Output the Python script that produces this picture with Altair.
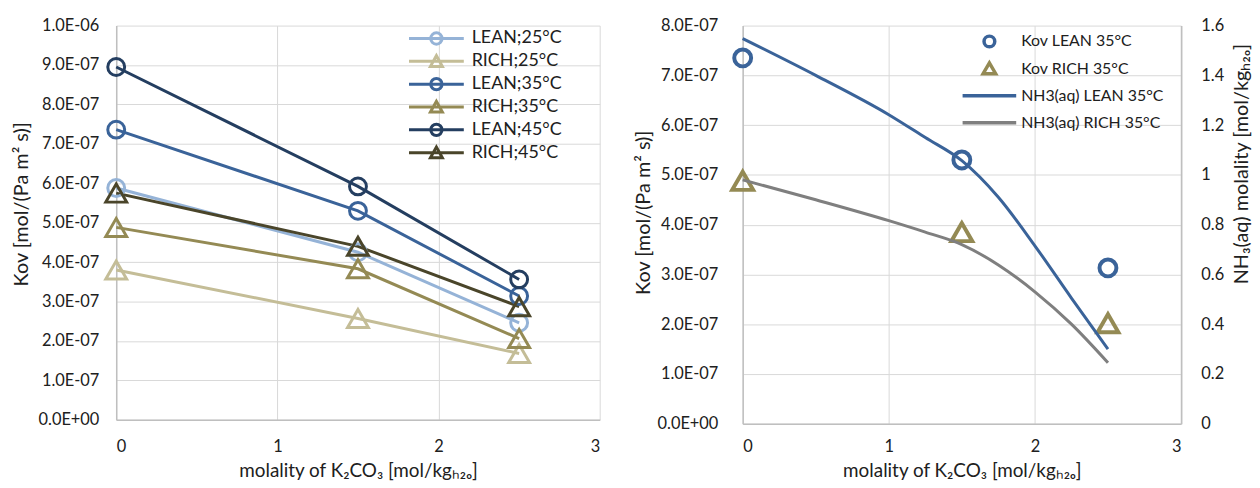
import altair as alt
import pandas as pd

FONT = "Lato"
TXT = "#202020"
GRID = "#D9D9D9"
AXIS = "#BFBFBF"
LBL = 16.5
XTTL = 19
YTTL = 20

# ---------------- left panel data ----------------
k2co3_pts = [0.0, 1.5, 2.5]
left_series = ["LEAN;25°C", "RICH;25°C", "LEAN;35°C", "RICH;35°C", "LEAN;45°C", "RICH;45°C"]
left_colors = ["#95B3D7", "#C4BD97", "#3A6399", "#948A54", "#243E60", "#4A452A"]
kov_lean25 = [5.88e-7, 4.25e-7, 2.46e-7]
kov_rich25 = [3.80e-7, 2.57e-7, 1.68e-7]
kov_lean35 = [7.36e-7, 5.30e-7, 3.14e-7]
kov_rich35 = [4.88e-7, 3.83e-7, 2.06e-7]
kov_lean45 = [8.95e-7, 5.92e-7, 3.56e-7]
kov_rich45 = [5.75e-7, 4.40e-7, 2.87e-7]
left_y_ticks = [0.0, 1e-7, 2e-7, 3e-7, 4e-7, 5e-7, 6e-7, 7e-7, 8e-7, 9e-7, 1e-6]
x_ticks = [0, 1, 2, 3]

# ---------------- right panel data ----------------
right_series = ["Kov LEAN 35°C", "Kov RICH 35°C", "NH3(aq) LEAN 35°C", "NH3(aq) RICH 35°C"]
right_colors = ["#3A6399", "#948A54", "#3A6399", "#7F7F7F"]
kov_lean35_r = [7.35e-7, 5.30e-7, 3.13e-7]
kov_rich35_r = [4.88e-7, 3.85e-7, 2.02e-7]
x_curve = [0.0, 0.5, 1.0, 1.25, 1.5, 1.75, 2.0, 2.25, 2.5]
nh3_lean35 = [1.548, 1.40, 1.242, 1.15, 1.057, 0.91, 0.715, 0.505, 0.30]
nh3_rich35 = [0.98, 0.90, 0.816, 0.77, 0.72, 0.638, 0.53, 0.40, 0.245]
right_y_ticks = [0.0, 1e-7, 2e-7, 3e-7, 4e-7, 5e-7, 6e-7, 7e-7, 8e-7]
right_y2_ticks = [0.0, 0.2, 0.4, 0.6, 0.8, 1.0, 1.2, 1.4, 1.6]

# ---------------- tables ----------------
rows = []
for s, vals in zip(left_series, [kov_lean25, kov_rich25, kov_lean35, kov_rich35, kov_lean45, kov_rich45]):
    for x, v in zip(k2co3_pts, vals):
        rows.append({"series": s, "x": x, "kov": v, "mk": "LEAN" if s.startswith("LEAN") else "RICH"})
df_left = pd.DataFrame(rows)

rows = []
for s, vals in zip(right_series[:2], [kov_lean35_r, kov_rich35_r]):
    for x, v in zip(k2co3_pts, vals):
        rows.append({"series": s, "x": x, "kov": v, "mk": "LEAN" if "LEAN" in s else "RICH"})
df_right_pts = pd.DataFrame(rows)

rows = []
for s, vals in zip(right_series[2:], [nh3_lean35, nh3_rich35]):
    for x, v in zip(x_curve, vals):
        rows.append({"series": s, "x": x, "nh3": v})
df_right_lines = pd.DataFrame(rows)

sci_expr = ("datum.value < 1e-9 ? '0.0E+00' : (datum.value > 9.5e-7 ? '1.0E-06' : "
            "format(datum.value * 1e7, '.1f') + 'E-07')")

x_title = "molality of K₂CO₃ [mol/kgₕ₂ₒ]"

# legend glyphs (line + marker), as custom symbol paths
P_LEAN_L = "M-4.6,0L4.6,0M-0.95,0A0.95,0.95 0 1,0 0.95,0A0.95,0.95 0 1,0 -0.95,0"
P_RICH_L = "M-4.6,0L4.6,0M-1,0.85L0,-0.95L1,0.85Z"
P_CIRC = "M-0.9,0A0.9,0.9 0 1,0 0.9,0A0.9,0.9 0 1,0 -0.9,0"
P_TRI = "M-1.05,0.85L0,-0.95L1.05,0.85Z"
P_LINE = "M-4.5,0L4.5,0M0,-0.95L0,-0.95M0,0.95L0,0.95"

legend_left = alt.Legend(
    orient="none", legendX=296, legendY=4, title=None, padding=0,
    symbolSize=144, symbolStrokeWidth=3, symbolOffset=17.5, labelOffset=26.5,
    labelFont=FONT, labelFontSize=18, labelColor=TXT, rowPadding=-1,
    symbolOpacity=1, symbolFillColor="transparent",
)
legend_right = alt.Legend(
    orient="none", legendX=223, legendY=8, title=None, padding=0,
    symbolSize=144, symbolStrokeWidth=3.5, symbolOffset=17.5, labelOffset=24,
    labelFont=FONT, labelFontSize=16, labelColor=TXT, rowPadding=1.3,
    symbolOpacity=1, symbolFillColor="transparent",
)

# ---------------- left panel ----------------
xl = alt.X("x:Q", scale=alt.Scale(domain=[0, 3], nice=False),
           axis=alt.Axis(values=x_ticks, title=x_title, labelPadding=19, titlePadding=7, format="d"))
yl = alt.Y("kov:Q", scale=alt.Scale(domain=[0, 1e-6], nice=False),
           axis=alt.Axis(values=left_y_ticks, labelExpr=sci_expr, titleFontSize=YTTL, titleY=179.5,
                         title="Kov  [mol/(Pa m² s)]", labelPadding=17.5, titlePadding=6.5))
cl = alt.Color("series:N", scale=alt.Scale(domain=left_series, range=left_colors), legend=legend_left)
sl = alt.Shape("series:N", scale=alt.Scale(domain=left_series,
                                           range=[P_LEAN_L, P_RICH_L] * 3), legend=legend_left)

base_l = alt.Chart(df_left).encode(x=xl, y=yl, color=cl)
lines_l = base_l.mark_line(strokeWidth=3)
legend_helper_l = base_l.mark_point(filled=False, opacity=0).encode(shape=sl)
circ_l = base_l.transform_filter(alt.datum.mk == "LEAN").mark_point(
    shape="circle", size=289, filled=False, strokeWidth=3, opacity=1)
tri_l = base_l.transform_filter(alt.datum.mk == "RICH").mark_point(
    shape="triangle-up", size=440, filled=False, strokeWidth=3, opacity=1)
left = alt.layer(lines_l, legend_helper_l, circ_l, tri_l).properties(width=487, height=397)

# ---------------- right panel ----------------
xr = alt.X("x:Q", scale=alt.Scale(domain=[0, 3], nice=False),
           axis=alt.Axis(values=x_ticks, title=x_title, labelPadding=15, titlePadding=7, format="d"))
cr = alt.Color("series:N", scale=alt.Scale(domain=right_series, range=right_colors), legend=legend_right)
sr = alt.Shape("series:N", scale=alt.Scale(domain=right_series,
                                           range=[P_CIRC, P_TRI, P_LINE, P_LINE]), legend=legend_right)
yr = alt.Y("kov:Q", scale=alt.Scale(domain=[0, 8e-7], nice=False),
           axis=alt.Axis(values=right_y_ticks, labelExpr=sci_expr, titleFontSize=YTTL, titleY=188,
                         title="Kov [mol/(Pa m² s)]", labelPadding=25, titlePadding=4))

base_rp = alt.Chart(df_right_pts).encode(x=xr, y=yr, color=cr)
circ_r = base_rp.transform_filter(alt.datum.mk == "LEAN").mark_point(
    shape="circle", size=289, filled=False, strokeWidth=4, opacity=1)
tri_r = base_rp.transform_filter(alt.datum.mk == "RICH").mark_point(
    shape="triangle-up", size=440, filled=False, strokeWidth=4, opacity=1)

y2 = alt.Y("nh3:Q", scale=alt.Scale(domain=[0, 1.6], nice=False),
           axis=alt.Axis(values=right_y2_ticks, format="~g", orient="right", grid=False,
                         titleFontSize=YTTL, titleAngle=270, titleBaseline="top", titleY=139,
                         title="NH₃(aq) molality [mol/kgₕ₂ₒ]", labelPadding=20, titlePadding=8))
base_rl = alt.Chart(df_right_lines).encode(x=xr, y=y2, color=cr)
lines_r = base_rl.mark_line(strokeWidth=3, interpolate="monotone")
legend_helper_r = base_rl.mark_point(filled=False, opacity=0).encode(shape=sr)

left_y_layer = alt.layer(circ_r, tri_r)
right_y_layer = alt.layer(lines_r, legend_helper_r)
right = alt.layer(left_y_layer, right_y_layer).resolve_scale(y="independent").properties(width=441.5, height=401)

chart = alt.hconcat(left, right, spacing=33).resolve_scale(
    color="independent", shape="independent"
).configure(
    padding={"left": 3, "top": 8, "right": 0, "bottom": 0},
    font=FONT,
).configure_axis(
    labelFont=FONT, labelFontSize=LBL, labelColor=TXT,
    titleFont=FONT, titleFontSize=XTTL, titleFontWeight="normal", titleColor=TXT,
    gridColor=GRID, gridWidth=1, domainColor=AXIS, domainWidth=1.5, ticks=False,
).configure_view(stroke=None)

chart.save("out.html", embed_options={"renderer": "svg", "actions": False})
